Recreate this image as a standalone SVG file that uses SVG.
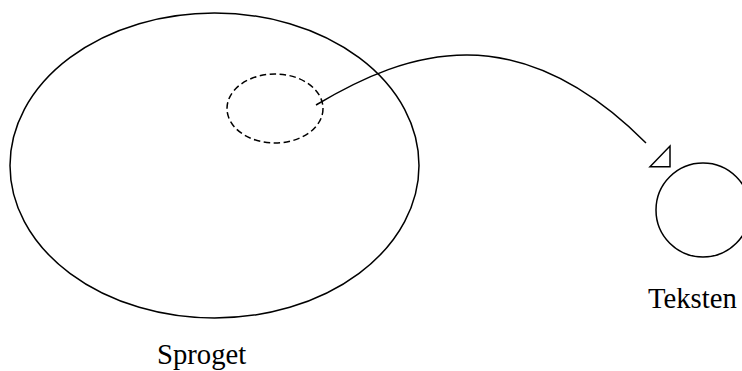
<svg xmlns="http://www.w3.org/2000/svg" width="742" height="371" viewBox="0 0 742 371">
<style>
.ln{fill:none;stroke:#000;stroke-width:1.5}
.dash{stroke-dasharray:6.5 3.5}
.lbl{font-family:"Liberation Serif","Times New Roman",serif;font-size:28.7px;fill:#000}
</style>
<rect width="742" height="371" fill="#fff"/>
<g id="sproget">
<ellipse class="ln" cx="214.5" cy="165.5" rx="204.5" ry="152.5"/>
<text class="lbl" x="157" y="364">Sproget</text>
</g>
<g id="udsnit">
<ellipse class="ln dash" cx="275" cy="108.5" rx="48" ry="34.5"/>
</g>
<g id="teksten">
<circle class="ln" cx="703" cy="210" r="47"/>
<text class="lbl" x="648" y="308">Teksten</text>
</g>
<g id="connectors">
<path class="ln" d="M316,105 C408,50 517,14 646,143"/>
<polygon class="ln" points="650,166.7 670,146 670,166.7"/>
</g>
</svg>
